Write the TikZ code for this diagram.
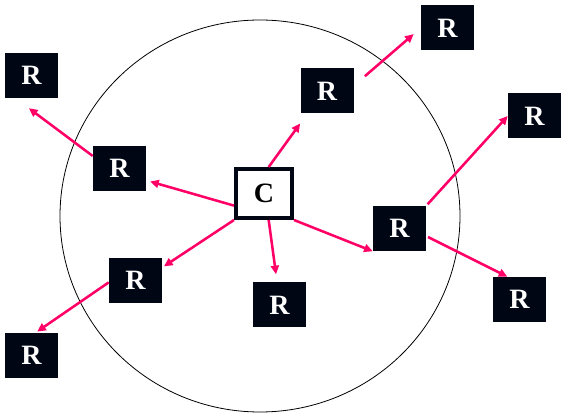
\documentclass[tikz,border=0pt]{standalone}
\usepackage{tikz}
\usepackage{fontspec}
\setmainfont{Liberation Serif}
\usetikzlibrary{positioning, arrows.meta}
\definecolor{linkpink}{RGB}{255,0,102}
\definecolor{boxnavy}{RGB}{0,6,20}

\begin{document}
\begin{tikzpicture}[x=0.75pt,y=-0.75pt,
        rbox/.style={fill=boxnavy,text=white,inner sep=0pt,
            minimum width=39.75pt,minimum height=33.75pt,
            font=\fontsize{21}{24}\selectfont\bfseries},
        cbox/.style={draw=boxnavy,line width=3pt,fill=white,inner sep=0pt,
            minimum width=42pt,minimum height=36.75pt,
            font=\fontsize{21}{24}\selectfont\bfseries},
        link/.style={draw=linkpink,line width=1.9pt,
            -{Triangle[length=6.5pt,width=6pt]}}]
        \useasboundingbox (0,0) rectangle (568,413);
        % Range circle
        \draw[line width=0.6pt] (260,216) ellipse [x radius=200, y radius=196];
        % Centre and relays
        \node[cbox] (c) at (264,193.5) {C};
        \node[rbox] (r1) at (31.5,75.5) {R};
        \node[rbox] (r2) at (119.5,168.5) {R};
        \node[rbox] (r3) at (327,91) {R};
        \node[rbox] (r4) at (447.5,28) {R};
        \node[rbox] (r5) at (534.5,116) {R};
        \node[rbox] (r6) at (399.5,228.5) {R};
        \node[rbox] (r7) at (519.5,299.5) {R};
        \node[rbox] (r8) at (279.5,305) {R};
        \node[rbox] (r9) at (135.5,280.5) {R};
        \node[rbox] (r10) at (31.5,355.5) {R};
        % First hop
        \draw[link,shorten >=9pt] (c.80) -- (r3.229);
        \draw[link,shorten >=3pt] (c.202) -- (r2.-24);
        \draw[link,shorten >=1.5pt] (c.south west) -- (r9.26);
        \draw[link,shorten >=6pt] (c.-80) -- (r8.96);
        \draw[link] (c.south east) -- (r6.south west);
        % Second hop
        \draw[link,shorten >=12.5pt] (r2.155) -- (r1.235);
        \draw[link,shorten <=11pt,shorten >=7pt] (r3.11) -- (r4.west);
        \draw[link,shorten <=1.5pt] (r6.north east) -- (r5.west);
        \draw[link,shorten <=1.5pt] (r6.-16) -- (r7.118);
        \draw[link,shorten >=1.5pt] (r9.184) -- (r10.80);
\end{tikzpicture}
\end{document}
